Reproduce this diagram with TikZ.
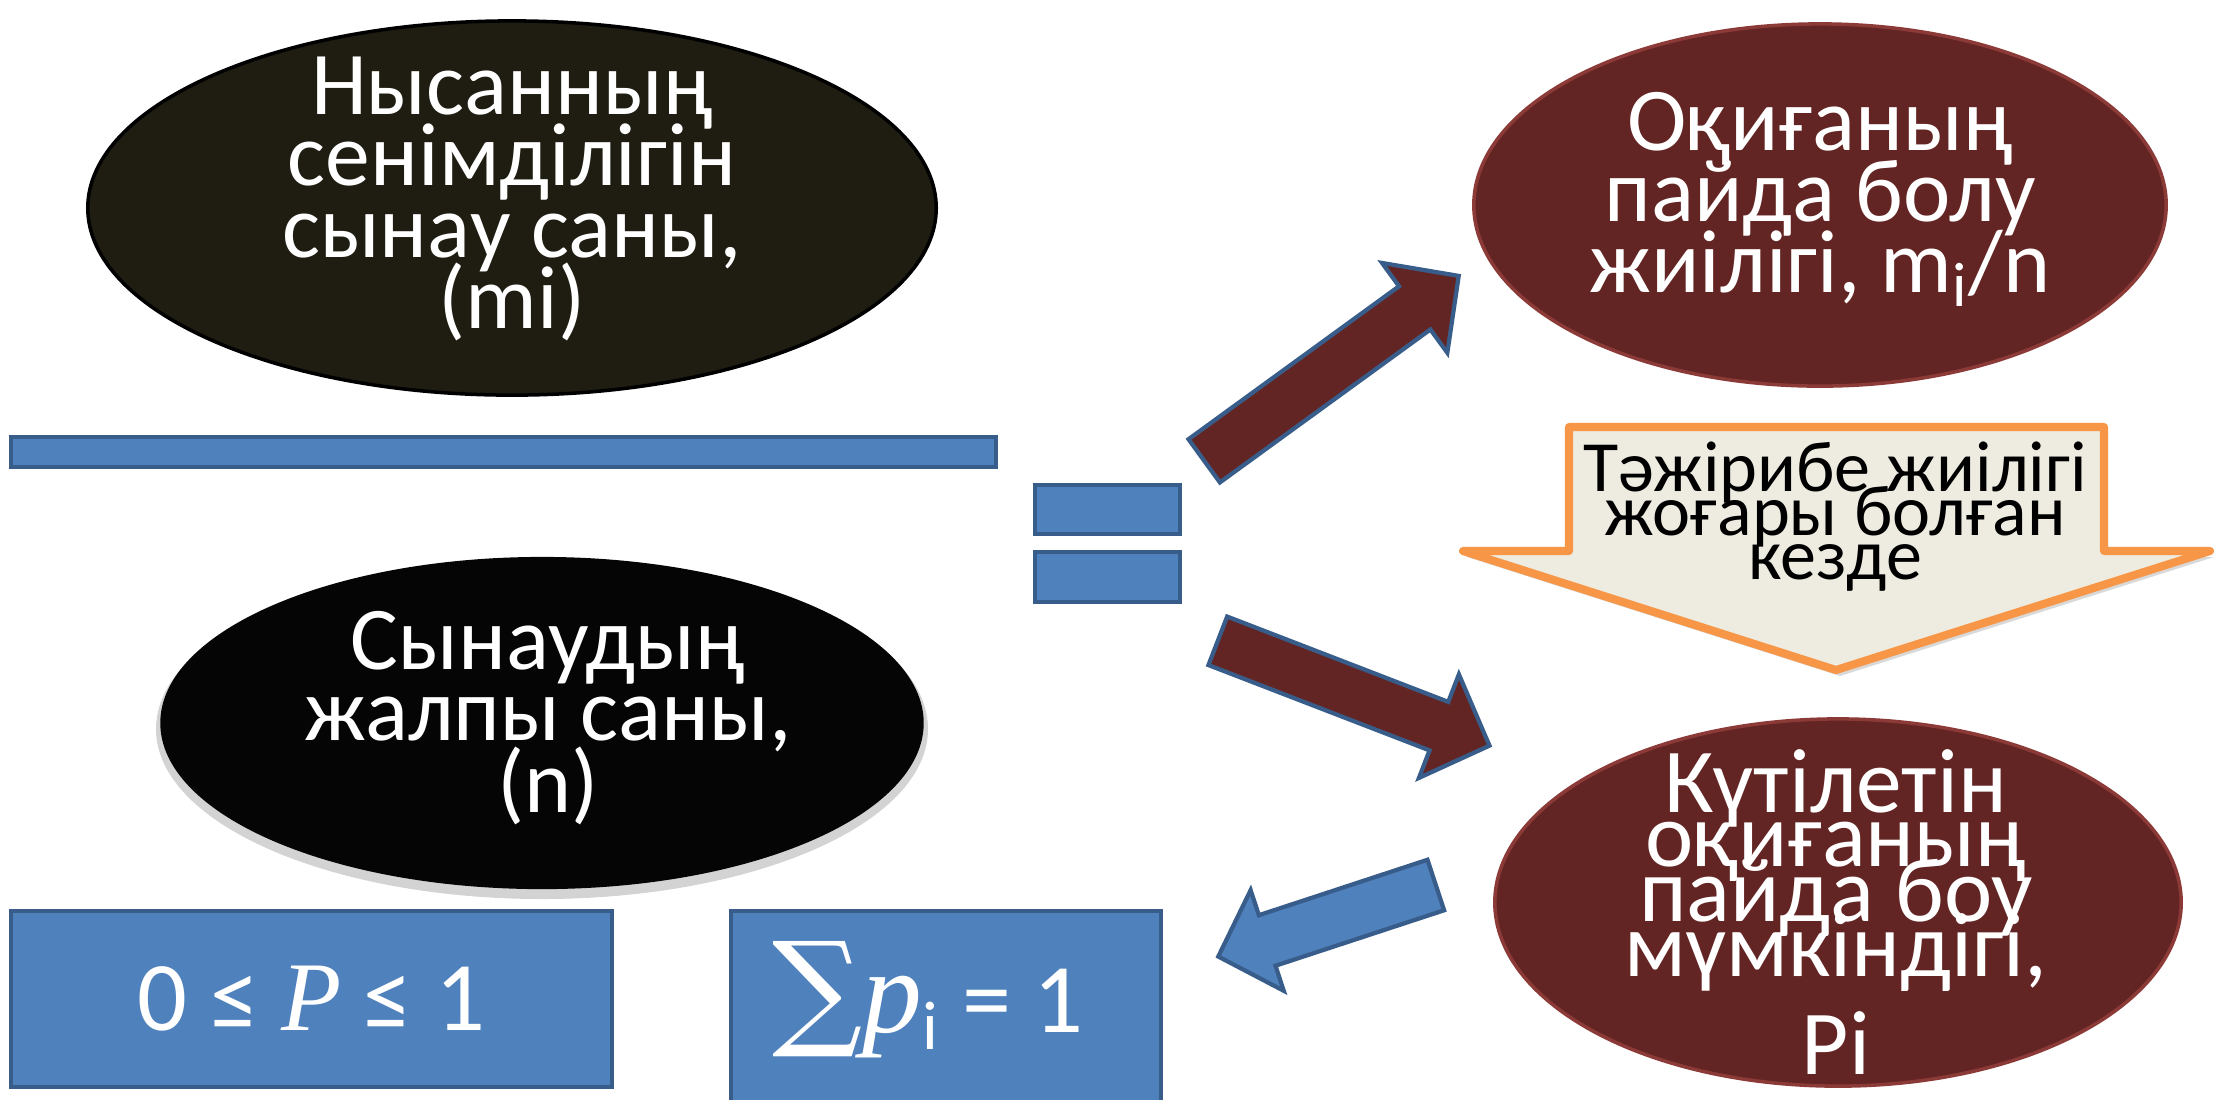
\documentclass[tikz,border=0pt]{standalone}
\usepackage{fontspec}
\setmainfont{Carlito}
\newfontfamily\serifmath{Liberation Serif}
\newfontfamily\sumfont{DejaVu Serif}
\usepackage{tikz}
\usetikzlibrary{shapes.geometric}

\definecolor{ovaldark}{RGB}{31,29,18}
\definecolor{ovalblack}{RGB}{5,5,5}
\definecolor{ovalred}{RGB}{99,37,35}
\definecolor{ovalredline}{RGB}{140,58,55}
\definecolor{boxblue}{RGB}{79,129,189}
\definecolor{boxline}{RGB}{56,93,138}
\definecolor{calloutline}{RGB}{247,150,70}
\definecolor{calloutfill}{RGB}{238,236,225}

\tikzset{
  oval/.style={ellipse, inner sep=0pt},
  ovaltext/.style={align=center, inner sep=0pt, text=white, font={\fontsize{25.5}{20.3}\selectfont\lineskiplimit-100pt}},
  bluebox/.style={rectangle, fill=boxblue, draw=boxline, line width=1.1pt, inner sep=0pt},
  redarrow/.style={fill=ovalred, draw=boxline, line width=1.2pt, line join=miter},
  bluearrow/.style={fill=boxblue, draw=boxline, line width=1.2pt, line join=miter}
}

\begin{document}
\begin{tikzpicture}[x=0.01cm, y=-0.01cm]
\useasboundingbox (0,0) rectangle (2230,1099);

\node (Trials) [oval, fill=ovaldark, draw=black, line width=1pt, minimum width=8.48cm, minimum height=3.74cm] at (512,208) {};
\node (TrialsText) [ovaltext] at (512,199) {Нысанның\\сенімділігін\\сынау саны,\\(mi)};

\node (Bar) [bluebox, minimum width=9.85cm, minimum height=0.30cm] at (503.5,452) {};
\node (EqTop) [bluebox, minimum width=1.45cm, minimum height=0.49cm] at (1107.5,509.5) {};
\node (EqBot) [bluebox, minimum width=1.45cm, minimum height=0.50cm] at (1107.5,577) {};

\fill[gray, opacity=.35] (542,729) ellipse [x radius=386, y radius=170];
\node (Total) [oval, fill=ovalblack, minimum width=7.63cm, minimum height=3.32cm] at (542,723) {};
\node (TotalText) [ovaltext] at (548,718) {Сынаудың\\жалпы саны,\\(n)};

\node (Bound) [bluebox, minimum width=6.01cm, minimum height=1.76cm, font=\fontsize{28}{30}\selectfont, text=white] at (311.5,999) {0 ≤ {\serifmath\itshape P} ≤ 1};
\node (Sum) [bluebox, minimum width=4.30cm, minimum height=1.99cm] at (946,1010.5) {};
\node (SumText) [inner sep=0pt, anchor=base, text=white, font=\fontsize{28}{30}\selectfont] at (928,1032) {{\sumfont\fontsize{36}{36}\selectfont ∑}{\serifmath\itshape\fontsize{34}{34}\selectfont p}\textsubscript{i} = 1};

\node (Freq) [oval, fill=ovalred, draw=ovalredline, line width=1pt, minimum width=6.92cm, minimum height=3.62cm] at (1820,205) {};
\node (FreqText) [ovaltext] at (1820,199) {Оқиғаның\\пайда болу\\жиілігі, m\textsubscript{i}/n};

\node (Prob) [oval, fill=ovalred, draw=ovalredline, line width=1pt, minimum width=6.86cm, minimum height=3.67cm] at (1838,902.5) {};
\node (ProbText) [ovaltext, font={\fontsize{26}{15.6}\selectfont\lineskiplimit-100pt}] at (1836,912) {Күтілетін\\оқиғаның\\пайда боу\\мүмкіндігі,\\[12.3pt]Pi};

\fill[gray, opacity=.3] (1573,433) -- (2108,433) -- (2108,557) -- (2214,557) -- (1840,676) -- (1467,557) -- (1573,557) -- cycle;
\draw[fill=calloutfill, draw=calloutline, line width=2.3pt, line join=round] (1569,427) -- (2104,427) -- (2104,551) -- (2210,551) -- (1836,670) -- (1463,551) -- (1569,551) -- cycle;
\node (Note) [align=center, inner sep=0pt, font={\fontsize{20.5}{12.5}\selectfont\lineskiplimit-100pt}] at (1835,517) {Тәжірибе жиілігі\\жоғары болған\\кезде};

\begin{scope}[shift={(1204.2,460.8)}, rotate=36]
\draw[redarrow] (0,-26.7) -- (260.2,-26.7) -- (260.2,-55.5) -- (314.6,0) -- (260.2,55.5) -- (260.2,26.7) -- (0,26.7) -- cycle;
\end{scope}
\begin{scope}[shift={(1217.8,640.8)}, rotate=-21.1]
\draw[redarrow] (0,-26) -- (237,-26) -- (237,-55.5) -- (291.2,0) -- (237,55.5) -- (237,26) -- (0,26) -- cycle;
\end{scope}
\begin{scope}[shift={(1435.8,885)}, rotate=198.2]
\draw[bluearrow] (0,-26.6) -- (177.5,-26.6) -- (177.5,-53) -- (229,0) -- (177.5,53) -- (177.5,26.6) -- (0,26.6) -- cycle;
\end{scope}
\end{tikzpicture}
\end{document}
